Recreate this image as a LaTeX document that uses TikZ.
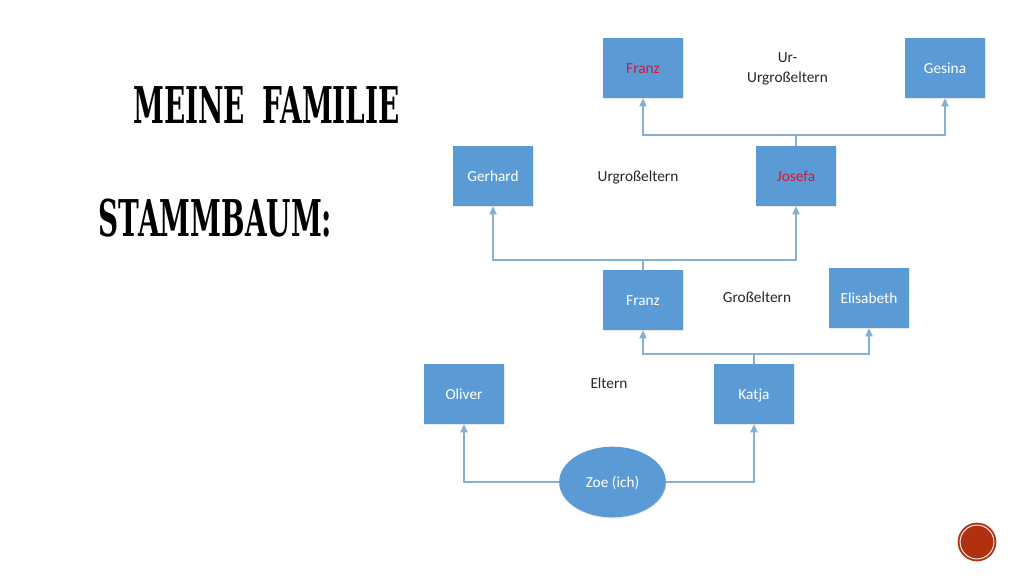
\documentclass[tikz,border=0pt]{standalone}
\usepackage{fontspec}
\setmainfont{Carlito}
\newfontfamily\titlefont[FakeStretch=0.55]{DejaVu Serif}
\usetikzlibrary{arrows.meta,shapes.geometric,shadows}
\definecolor{boxblue}{RGB}{91,155,213}
\definecolor{linkblue}{RGB}{135,175,210}
\definecolor{namered}{RGB}{205,25,60}
\definecolor{badgered}{RGB}{176,48,16}
\tikzset{
  boxshadow/.style={drop shadow={opacity=0.18,shadow xshift=0.4pt,shadow yshift=-0.9pt}},
  personbox/.style={draw=none,fill=boxblue,boxshadow,minimum width=60pt,minimum height=45pt,inner sep=0pt,text=white,text height=1.95ex,text depth=0.3ex,font=\fontsize{11.5pt}{13pt}\selectfont},
  selfnode/.style={ellipse,draw=none,fill=boxblue,boxshadow,minimum width=80pt,minimum height=53pt,inner sep=0pt,text=white,text height=1.95ex,text depth=0.3ex,font=\fontsize{11.5pt}{13pt}\selectfont},
  gentext/.style={text=black!85,align=center,inner sep=0pt,font=\fontsize{11.5pt}{14.5pt}\selectfont},
  titletext/.style={text=black,inner sep=0pt,font=\titlefont\bfseries\fontsize{38pt}{40pt}\selectfont},
  link/.style={draw=linkblue,line width=0.8pt},
  linkarrow/.style={link,-{Triangle[length=6pt,width=5.5pt]}}
}
\begin{document}
\begin{tikzpicture}[x=0.75pt,y=0.75pt,yscale=-1,xscale=1]
\useasboundingbox (0,0) rectangle (1024,576);
% titles
\node[titletext] (title) at (266.5,105) {MEINE\hspace{0.15em} FAMILIE};
\node[titletext] (subtitle) at (215.5,218.5) {STAMMBAUM:};
% persons
\node[personbox,text=namered] (franzalt) at (643,68) {Franz};
\node[personbox] (gesina) at (945,68) {Gesina};
\node[personbox] (gerhard) at (493,176) {Gerhard};
\node[personbox,text=namered] (josefa) at (796,176) {Josefa};
\node[personbox] (franz) at (643,300) {Franz};
\node[personbox] (elisabeth) at (869,298) {Elisabeth};
\node[personbox] (oliver) at (464,394) {Oliver};
\node[personbox] (katja) at (754,394) {Katja};
\node[selfnode] (zoe) at (612.5,482) {Zoe (ich)};
% generations
\node[gentext] (urur) at (787.5,69) {Ur-\\Urgroßeltern};
\node[gentext] (urgross) at (638,177) {Urgroßeltern};
\node[gentext] (gross) at (757,297.5) {Großeltern};
\node[gentext] (eltern) at (609,383.5) {Eltern};
% junctions
\coordinate (jurur) at (796,135);
\coordinate (jurgross) at (643,260);
\coordinate (jgross) at (754,354);
% links
\draw[linkarrow] (zoe.west) -| (oliver.south);
\draw[linkarrow] (zoe.east) -| (katja.south);
\draw[link] (katja.north) -- (jgross);
\draw[linkarrow] (jgross) -| (franz.south);
\draw[linkarrow] (jgross) -| (elisabeth.south);
\draw[link] (franz.north) -- (jurgross);
\draw[linkarrow] (jurgross) -| (gerhard.south);
\draw[linkarrow] (jurgross) -| (josefa.south);
\draw[link] (josefa.north) -- (jurur);
\draw[linkarrow] (jurur) -| (franzalt.south);
\draw[linkarrow] (jurur) -| (gesina.south);
% badge
\fill[badgered] (977,542) circle [radius=14.5pt];
\draw[white!85!badgered,line width=0.8pt] (977,542) circle [radius=12.7pt];
\end{tikzpicture}
\end{document}
